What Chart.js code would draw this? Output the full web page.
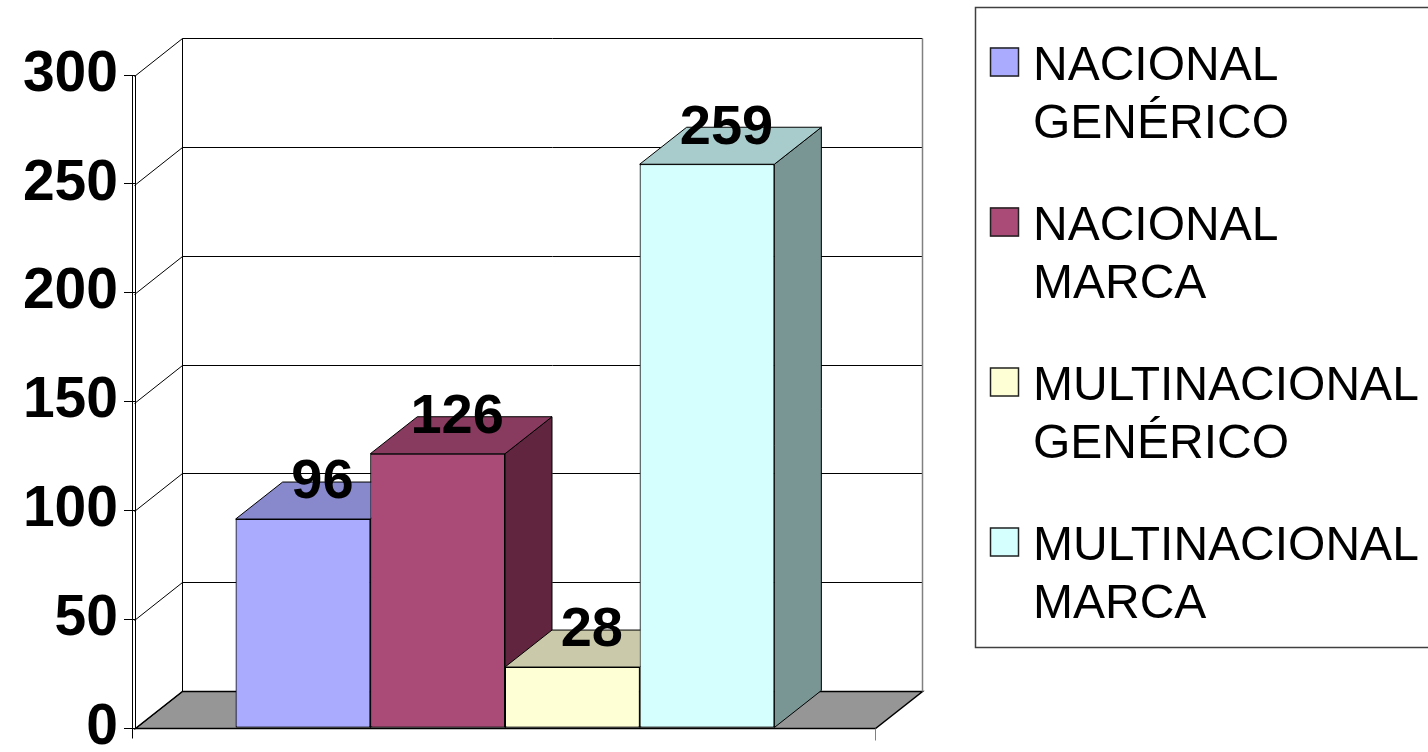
<!DOCTYPE html>
<html><head><meta charset="utf-8">
<script src="https://cdn.jsdelivr.net/npm/chart.js@4/dist/chart.umd.min.js"></script>
<style>html,body{margin:0;padding:0;background:#fff;overflow:hidden}canvas{display:block}</style>
</head><body>
<canvas id="c" width="1428" height="752"></canvas>
<script>
// ---- data ----
const categories = [''];
const seriesNames = [
  ['NACIONAL', 'GENÉRICO'],
  ['NACIONAL', 'MARCA'],
  ['MULTINACIONAL', 'GENÉRICO'],
  ['MULTINACIONAL', 'MARCA']
];
const nacionalGenerico = [96];
const nacionalMarca = [126];
const multinacionalGenerico = [28];
const multinacionalMarca = [259];
const seriesValues = [nacionalGenerico, nacionalMarca, multinacionalGenerico, multinacionalMarca];
const yTicks = [0, 50, 100, 150, 200, 250, 300];

// ---- styles ----
const frontColors = ['#AAAAFF', '#AA4A77', '#FFFFD5', '#D5FFFF'];
const topColors = ['#8888CC', '#883A5F', '#CACAAA', '#A8CCCC'];
const sideColors = ['#666699', '#622540', '#99997F', '#799594'];
const DX = 47, DY = -37;
const FONT = "'Liberation Sans', Arial, sans-serif";

function line(ctx, x1, y1, x2, y2) {
  ctx.beginPath(); ctx.moveTo(x1, y1); ctx.lineTo(x2, y2); ctx.stroke();
}

const threeD = {
  id: 'threeD',
  beforeDatasetsDraw(chart) {
    const { ctx, chartArea: a, scales: { y } } = chart;
    const L = Math.round(a.left) + 0.5, R = Math.round(a.right) + 0.5;
    const y0 = Math.round(y.getPixelForValue(0)) + 0.5;
    const yTop = Math.round(y.getPixelForValue(yTicks[yTicks.length - 1])) + 0.5;
    ctx.save();
    // floor
    ctx.fillStyle = '#969696';
    ctx.beginPath();
    ctx.moveTo(L, y0); ctx.lineTo(R, y0); ctx.lineTo(R + DX, y0 + DY); ctx.lineTo(L + DX, y0 + DY); ctx.closePath();
    ctx.fill();
    ctx.strokeStyle = '#000'; ctx.lineWidth = 1.5; ctx.stroke();
    // back wall gridlines + left wall diagonals
    ctx.lineWidth = 1;
    for (const v of yTicks) {
      const yp = Math.round(y.getPixelForValue(v)) + 0.5;
      ctx.strokeStyle = '#000';
      line(ctx, L + DX, yp + DY, R + DX, yp + DY);
      line(ctx, L - 1, yp + 1, L + DX, yp + DY);
    }
    // back-left vertical
    ctx.strokeStyle = '#000';
    line(ctx, L + DX, yTop + DY, L + DX, y0 + DY);
    // right wall vertical
    ctx.strokeStyle = '#808080'; ctx.lineWidth = 1.5;
    line(ctx, R + DX, yTop + DY, R + DX, y0 + DY);
    // front axis double line
    ctx.strokeStyle = '#000'; ctx.lineWidth = 1;
    line(ctx, L - 3, yTop, L - 3, y0 + 10);
    line(ctx, L, yTop, L, y0);
    // x-axis end ticks
    ctx.strokeStyle = '#808080';
    line(ctx, R, y0, R, y0 + 12);
    ctx.restore();
  },
  afterDatasetsDraw(chart) {
    const { ctx } = chart;
    ctx.save();
    const bars = [];
    for (let i = 0; i < chart.data.datasets.length; i++) {
      const el = chart.getDatasetMeta(i).data[0];
      const p = el.getProps(['x', 'y', 'base', 'width'], true);
      const l = p.x - p.width / 2, r = p.x + p.width / 2;
      ctx.lineWidth = 1; ctx.strokeStyle = '#000';
      // side
      ctx.fillStyle = sideColors[i];
      ctx.beginPath();
      ctx.moveTo(r, p.y); ctx.lineTo(r + DX, p.y + DY); ctx.lineTo(r + DX, p.base + DY); ctx.lineTo(r, p.base); ctx.closePath();
      ctx.fill(); ctx.stroke();
      // top
      ctx.fillStyle = topColors[i];
      ctx.beginPath();
      ctx.moveTo(l, p.y); ctx.lineTo(r, p.y); ctx.lineTo(r + DX, p.y + DY); ctx.lineTo(l + DX, p.y + DY); ctx.closePath();
      ctx.fill(); ctx.stroke();
      // front (library element)
      el.draw(ctx);
      bars.push(p);
    }
    // value labels
    ctx.fillStyle = '#000';
    ctx.font = 'bold 56px ' + FONT;
    ctx.textAlign = 'center'; ctx.textBaseline = 'middle';
    bars.forEach((p, i) => {
      ctx.fillText(String(seriesValues[i][0]), p.x + DX / 2 - 4, p.y + DY + 1);
    });
    ctx.restore();
  },
  afterDraw(chart) {
    const { ctx } = chart;
    ctx.save();
    // legend box
    ctx.strokeStyle = '#404040'; ctx.lineWidth = 1.5;
    ctx.strokeRect(975.5, 7.5, 520, 640);
    ctx.font = '48px ' + FONT;
    ctx.textAlign = 'left'; ctx.textBaseline = 'alphabetic';
    seriesNames.forEach((lines, i) => {
      const cy = 61.5 + i * 160;
      ctx.fillStyle = frontColors[i];
      ctx.fillRect(990, cy - 14, 29, 29);
      ctx.strokeStyle = '#222'; ctx.lineWidth = 1.5;
      ctx.strokeRect(990.5, cy - 13.5, 28, 28);
      ctx.fillStyle = '#000';
      lines.forEach((t, j) => ctx.fillText(t, 1033, cy + 18.5 + j * 57.5));
    });
    ctx.restore();
  }
};

new Chart(document.getElementById('c'), {
  type: 'bar',
  data: {
    labels: categories,
    datasets: seriesValues.map((vals, i) => ({
      label: seriesNames[i].join(' '),
      data: vals,
      backgroundColor: frontColors[i],
      borderColor: '#000',
      borderWidth: 1,
      borderSkipped: false,
      categoryPercentage: 0.728,
      barPercentage: 1
    }))
  },
  options: {
    responsive: false,
    animation: false,
    events: [],
    layout: { padding: { left: 0, top: 75, right: 553, bottom: 24 } },
    plugins: { legend: { display: false }, tooltip: { enabled: false } },
    scales: {
      x: { display: false, offset: true },
      y: {
        min: 0, max: 300,
        afterBuildTicks: s => { s.ticks = yTicks.map(v => ({ value: v })); },
        afterFit: s => { s.width = 135; s.paddingTop = 0; s.paddingBottom = 0; },
        grid: { display: true, drawOnChartArea: false, drawTicks: true, tickLength: 11, color: '#000', lineWidth: 1 },
        border: { display: false },
        ticks: { padding: 6, color: '#000', font: { family: FONT, size: 57, weight: 'bold', lineHeight: 1 } }
      }
    }
  },
  plugins: [threeD]
});
</script>
</body></html>
